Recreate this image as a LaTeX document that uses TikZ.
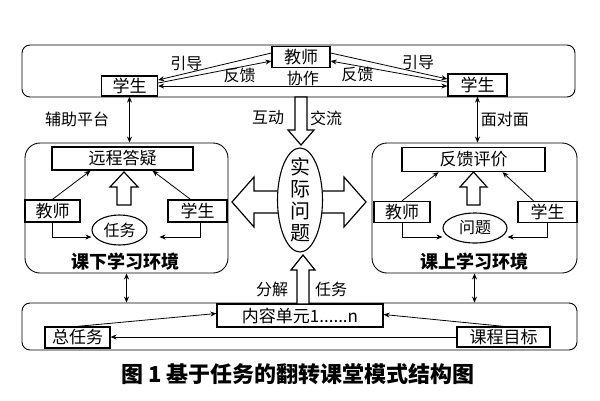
\documentclass[tikz,border=0pt]{standalone}
\usepackage{fontspec}
\setmainfont{Noto Sans CJK SC}
\usetikzlibrary{arrows.meta,shapes.geometric}

\begin{document}
\begin{tikzpicture}[x=1pt, y=-1pt,
    panel/.style={draw, rounded corners=#1, line width=0.9pt},
    panel/.default=8pt,
    box/.style={draw, line width=1.3pt, inner sep=0pt, font=\fontsize{17}{19}\selectfont},
    oval/.style={draw, ellipse, line width=1.1pt, inner sep=0pt, font=\fontsize{16}{18}\selectfont},
    arr/.style={-{Stealth[length=6pt,width=5pt]}, line width=0.8pt},
    dbl/.style={{Stealth[length=6pt,width=5pt]}-{Stealth[length=6pt,width=5pt]}, line width=0.8pt},
    hollow/.style={draw, line width=1.2pt, fill=white, line join=miter},
    lbl/.style={font=\fontsize{16}{18}\selectfont, inner sep=2pt},
    envlbl/.style={font=\bfseries\fontsize{18}{20}\selectfont}]
    \useasboundingbox (0,0) rectangle (600,400);
    % Define panels
        \node[panel, minimum width=553pt, minimum height=52pt] (top) at (298.5,71) {};
        \node[panel=15pt, minimum width=203pt, minimum height=130pt] (kx) at (126.5,208) {};
        \node[panel=15pt, minimum width=205pt, minimum height=130pt] (kt) at (474.5,208) {};
        \node[panel, minimum width=555pt, minimum height=47pt] (bot) at (299.5,326.5) {};
        % Top panel
        \node[box, minimum width=58pt, minimum height=21pt] (t0) at (301,57) {教师};
        \node[box, minimum width=56pt, minimum height=20pt] (s1) at (129.5,86) {学生};
        \node[box, minimum width=59pt, minimum height=22pt] (s2) at (477.5,85) {学生};
        \draw[arr] ([yshift=4pt]t0.west) -- ([yshift=6pt]s1.east) node[lbl, pos=0.75, above] {引导};
        \draw[arr] ([yshift=3pt]s1.east) -- ([yshift=-4pt]t0.west) node[lbl, pos=0.72, below=-1pt] {反馈};
        \draw[arr] ([yshift=4pt]t0.east) -- ([yshift=6pt]s2.west) node[lbl, pos=0.75, above] {引导};
        \draw[arr] ([yshift=3pt]s2.west) -- ([yshift=-4pt]t0.east) node[lbl, pos=0.77, below=-1pt] {反馈};
        \draw[dbl] (s1.east) -- (s1.east -| s2.west) node[lbl, midway, above=-2pt] {协作};
        \draw[dbl] (s1.south) -- (s1.south |- kx.north) node[lbl, midway, left=18pt] {辅助平台};
        \draw[dbl] (s2.south) -- (s2.south |- kt.north) node[lbl, midway, right=1pt] {面对面};
        % Centre
        \draw[hollow] (295,97) -- (295,130) -- (288,130) -- (301,145) -- (314,130) -- (307,130) -- (307,97) -- cycle;
        \node[lbl] (hd) at (268,118) {互动};
        \node[lbl] (jl) at (326,118) {交流};
        \draw[hollow] (232,202) -- (254,177) -- (254,191) -- (344,191) -- (344,177) -- (366,202)
            -- (344,227) -- (344,213) -- (254,213) -- (254,227) -- cycle;
        \node[oval, fill=white, minimum width=45pt, minimum height=104pt,
            label={[align=center, font=\fontsize{20}{22}\selectfont]center:{实\\际\\问\\题}}] (q) at (300,200) {};
        % Lower left panel
        \node[box, minimum width=141pt, minimum height=23pt] (r1) at (122.5,158.5) {远程答疑};
        \node[box, minimum width=55pt, minimum height=22pt] (t1) at (52.5,211) {教师};
        \node[box, minimum width=59pt, minimum height=22pt] (s3) at (197.5,211) {学生};
        \node[oval, minimum width=55pt, minimum height=30pt] (e1) at (119.5,230) {任务};
        \draw[hollow] (117,205) -- (117,187) -- (110,187) -- (124,172) -- (138,187) -- (131,187) -- (131,205) -- cycle;
        \draw[arr] (t1.north) -- ([xshift=-32pt]r1.south);
        \draw[arr] ([xshift=-7pt]s3.north) -- ([xshift=30pt]r1.south);
        \draw[arr] (t1.south) |- ([yshift=-7pt]e1.west);
        \draw[arr] ([xshift=3pt]s3.south) |- ([xshift=12pt,yshift=-7pt]e1.east);
        \node[envlbl] (kxl) at (125,262) {课下学习环境};
        % Lower right panel
        \node[box, minimum width=143pt, minimum height=24pt] (r2) at (473.5,159.5) {反馈评价};
        \node[box, minimum width=56pt, minimum height=21pt] (t2) at (402,212) {教师};
        \node[box, minimum width=59pt, minimum height=21pt] (s4) at (547.5,212) {学生};
        \node[oval, minimum width=64pt, minimum height=30pt] (e2) at (475,228) {问题};
        \draw[hollow] (467,205) -- (467,187) -- (460,187) -- (473.5,172) -- (487,187) -- (480,187) -- (480,205) -- cycle;
        \draw[arr] (t2.north) -- ([xshift=-35pt]r2.south);
        \draw[arr] ([xshift=-14pt]s4.north) -- ([xshift=29pt]r2.south);
        \draw[arr] (t2.south) |- ([yshift=-9pt]e2.west);
        \draw[arr] (s4.south) |- ([yshift=-9pt]e2.east);
        \node[envlbl] (ktl) at (474,262) {课上学习环境};
        \draw[dbl] (kx.south) -- (kx.south |- bot.north);
        \draw[dbl] (kt.south) -- (kt.south |- bot.north);
        % Bottom panel
        \node[box, minimum width=166pt, minimum height=23pt] (c) at (300,315.5) {内容单元1......n};
        \node[box, minimum width=65pt, minimum height=21pt] (g) at (77.5,337.5) {总任务};
        \node[box, minimum width=93pt, minimum height=20pt] (o) at (503.5,337) {课程目标};
        \draw[hollow] (297,304) -- (297,270) -- (291,270) -- (303,255) -- (315,270) -- (309,270) -- (309,304) -- cycle;
        \node[lbl] (fj) at (272,289) {分解};
        \node[lbl] (rw) at (331,289) {任务};
        \draw[arr] (g.north) -- ([yshift=2pt]c.west);
        \draw[arr] (o.north) -- ([yshift=1pt]c.east);
        \draw[arr] (o.west) -- (o.west -| g.east);
        % Caption
        \node[font=\bfseries\fontsize{22}{24}\selectfont] (cap) at (298,374) {图 1 基于任务的翻转课堂模式结构图};
\end{tikzpicture}
\end{document}
